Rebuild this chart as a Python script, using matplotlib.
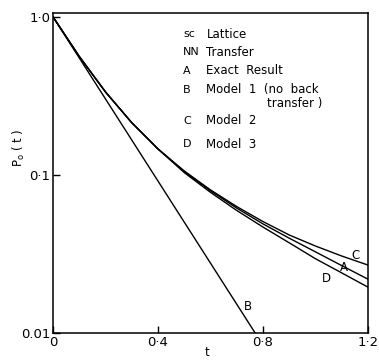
import numpy as np
import matplotlib
matplotlib.use('Agg')
import matplotlib.pyplot as plt

# time points
t = [0.0, 0.1, 0.2, 0.3, 0.4, 0.5, 0.6, 0.7, 0.8, 0.9, 1.0, 1.1, 1.2]

# A: exact result, C: model 2, D: model 3
p_A = [1.0, 0.562, 0.335, 0.214, 0.146, 0.105, 0.0794, 0.0617, 0.0490, 0.0398, 0.0326, 0.0267, 0.0219]
p_C = [1.0, 0.562, 0.335, 0.214, 0.146, 0.106, 0.0804, 0.0631, 0.0507, 0.0417, 0.0355, 0.0307, 0.0269]
p_D = [1.0, 0.562, 0.335, 0.214, 0.146, 0.1035, 0.0776, 0.0596, 0.0468, 0.0372, 0.0295, 0.0240, 0.0195]

# B: model 1, straight line on the log scale
t_B = [0.0, 0.77]
p_B = [1.0, 0.01]

xticks = [0, 0.4, 0.8, 1.2]
xticklabels = ['0', '0\u00b74', '0\u00b78', '1\u00b72']
yticks = [0.01, 0.1, 1.0]
yticklabels = ['0.01', '0\u00b71', '1\u00b70']

legend_keys = ['sc', 'NN', 'A', 'B', '', 'C', 'D']
legend_text = ['Lattice', 'Transfer', 'Exact  Result', 'Model  1  (no  back', 'transfer )', 'Model  2', 'Model  3']

plt.rcParams['font.family'] = ['DejaVu Sans']

fig = plt.figure(figsize=(3.79, 3.60), dpi=100)
ax = fig.add_axes([0.140, 0.075, 0.831, 0.889])

ax.semilogy(t, p_A, color='black', lw=1.0)
ax.semilogy(t, p_C, color='black', lw=1.0)
ax.semilogy(t, p_D, color='black', lw=1.0)
ax.semilogy(t_B, p_B, color='black', lw=1.0)

ax.set_xlim(0, 1.2)
ax.set_ylim(0.01, 1.06)

ax.set_xticks(xticks)
ax.set_xticklabels(xticklabels, fontsize=9.5)
ax.set_yticks(yticks)
ax.set_yticklabels(yticklabels, fontsize=9.5)
ax.minorticks_off()
ax.tick_params(direction='in', length=5, width=1, pad=2)

for s in ax.spines.values():
    s.set_linewidth(1.1)

# curve labels
ax.text(1.152, 0.031, 'C', fontsize=8.5, ha='center', va='center')
ax.text(1.107, 0.026, 'A', fontsize=8.5, ha='center', va='center')
ax.text(1.042, 0.022, 'D', fontsize=8.5, ha='center', va='center')
ax.text(0.743, 0.0148, 'B', fontsize=8.5, ha='center', va='center')

# key text
ys = [0.934, 0.878, 0.819, 0.76, 0.716, 0.6625, 0.59]
for key, txt, y in zip(legend_keys, legend_text, ys):
    if key:
        ax.text(0.413, y, key, transform=ax.transAxes, fontsize=8, va='center')
    x = 0.68 if txt.startswith('transfer') else 0.487
    ax.text(x, y, txt, transform=ax.transAxes, fontsize=8.5, va='center')

fig.text(0.05, 1 - 148 / 360, '$\\mathregular{P_o}$ ( t )', rotation=90, fontsize=8.5,
         ha='center', va='center')
fig.text(207 / 379, 0.002, 't', fontsize=8.5, ha='center', va='bottom')

fig.savefig('out.png', dpi=100)
